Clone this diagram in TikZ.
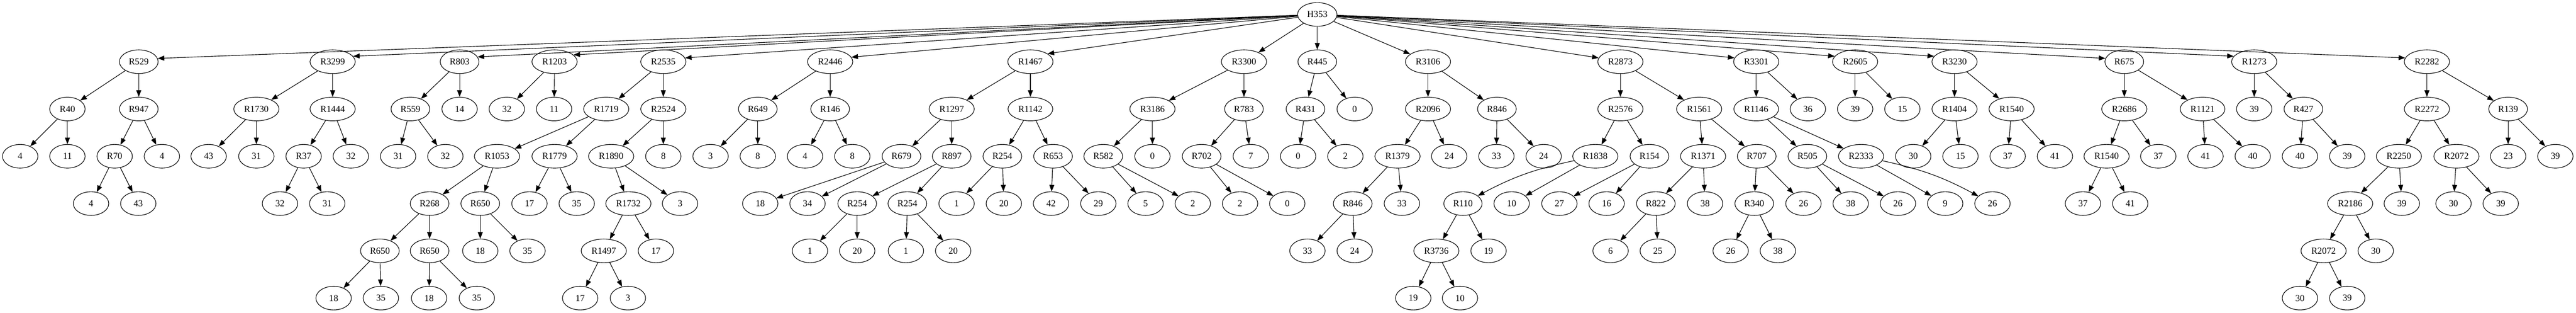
\documentclass[tikz,border=0pt]{standalone}
\usepackage{fontspec}
\setmainfont{Liberation Serif}
\usetikzlibrary{shapes.geometric,arrows.meta}
\tikzset{tree node/.style={ellipse,draw,minimum width=54pt,minimum height=36pt,inner xsep=5.7pt,inner ysep=2pt,font=\fontsize{14}{16}\selectfont},
}
\begin{document}
\begin{tikzpicture}[x=0.75pt,y=-72pt,line width=0.9pt,>={Triangle[length=10pt,width=7.5pt]}]
	\useasboundingbox (0,-0.30556) rectangle (5235,6.30556);
	\node[tree node] (h353) at (2677,0) {H353};
	
	\node[tree node] (r529) at (282,1) {R529};
	\node[tree node] (r40) at (137,2) {R40};
	\node[tree node] (r40a) at (41,3) {4};
	\node[tree node] (r40b) at (137,3) {11};
	\node[tree node] (r947) at (282,2) {R947};
	\node[tree node] (r70) at (233,3) {R70};
	\node[tree node] (r70a) at (185,4) {4};
	\node[tree node] (r70b) at (281,4) {43};
	\node[tree node] (r947b) at (329,3) {4};
	
	\node[tree node] (r3299) at (676,1) {R3299};
	\node[tree node] (r1730) at (521,2) {R1730};
	\node[tree node] (r1730a) at (424,3) {43};
	\node[tree node] (r1730b) at (521,3) {31};
	\node[tree node] (r1444) at (676,2) {R1444};
	\node[tree node] (r37) at (617,3) {R37};
	\node[tree node] (r37a) at (569,4) {32};
	\node[tree node] (r37b) at (665,4) {31};
	\node[tree node] (r1444b) at (713,3) {32};
	
	\node[tree node] (r803) at (934,1) {R803};
	\node[tree node] (r559) at (834,2) {R559};
	\node[tree node] (r559a) at (809,3) {31};
	\node[tree node] (r559b) at (905,3) {32};
	\node[tree node] (r803b) at (934,2) {14};
	
	\node[tree node] (r1203) at (1127,1) {R1203};
	\node[tree node] (r1203a) at (1030,2) {32};
	\node[tree node] (r1203b) at (1126,2) {11};
	
	\node[tree node] (r2535) at (1348,1) {R2535};
	\node[tree node] (r1719) at (1232,2) {R1719};
	\node[tree node] (r1053) at (1010,3) {R1053};
	\node[tree node] (r268) at (873,4) {R268};
	\node[tree node] (r650a) at (772,5) {R650};
	\node[tree node] (r650aa) at (678,6) {18};
	\node[tree node] (r650ab) at (774,6) {35};
	\node[tree node] (r650b) at (873,5) {R650};
	\node[tree node] (r650ba) at (872,6) {18};
	\node[tree node] (r650bb) at (969,6) {35};
	\node[tree node] (r650c) at (976,4) {R650};
	\node[tree node] (r650ca) at (976,5) {18};
	\node[tree node] (r650cb) at (1072,5) {35};
	\node[tree node] (r1779) at (1127,3) {R1779};
	\node[tree node] (r1779a) at (1076,4) {17};
	\node[tree node] (r1779b) at (1172,4) {35};
	\node[tree node] (r2524) at (1348,2) {R2524};
	\node[tree node] (r1890) at (1242,3) {R1890};
	\node[tree node] (r1732) at (1277,4) {R1732};
	\node[tree node] (r1497) at (1227,5) {R1497};
	\node[tree node] (r1497a) at (1179,6) {17};
	\node[tree node] (r1497b) at (1276,6) {3};
	\node[tree node] (r1732b) at (1333,5) {17};
	\node[tree node] (r1890b) at (1382,4) {3};
	\node[tree node] (r2524b) at (1348,3) {8};
	
	\node[tree node] (r2446) at (1687,1) {R2446};
	\node[tree node] (r649) at (1540,2) {R649};
	\node[tree node] (r649a) at (1444,3) {3};
	\node[tree node] (r649b) at (1540,3) {8};
	\node[tree node] (r146) at (1687,2) {R146};
	\node[tree node] (r146a) at (1636,3) {4};
	\node[tree node] (r146b) at (1732,3) {8};
	
	\node[tree node] (r1467) at (2094,1) {R1467};
	\node[tree node] (r1297) at (1934,2) {R1297};
	\node[tree node] (r679) at (1832,3) {R679};
	\node[tree node] (r679a) at (1545,4) {18};
	\node[tree node] (r679b) at (1641,4) {34};
	\node[tree node] (r897) at (1934,3) {R897};
	\node[tree node] (r254a) at (1742,4) {R254};
	\node[tree node] (r254aa) at (1646,5) {1};
	\node[tree node] (r254ab) at (1742,5) {20};
	\node[tree node] (r254b) at (1844,4) {R254};
	\node[tree node] (r254ba) at (1841,5) {1};
	\node[tree node] (r254bb) at (1937,5) {20};
	\node[tree node] (r1142) at (2094,2) {R1142};
	\node[tree node] (r254c) at (2037,3) {R254};
	\node[tree node] (r254ca) at (1944,4) {1};
	\node[tree node] (r254cb) at (2040,4) {20};
	\node[tree node] (r653) at (2140,3) {R653};
	\node[tree node] (r653a) at (2136,4) {42};
	\node[tree node] (r653b) at (2232,4) {29};
	
	\node[tree node] (r3300) at (2528,1) {R3300};
	\node[tree node] (r3186) at (2342,2) {R3186};
	\node[tree node] (r582) at (2242,3) {R582};
	\node[tree node] (r582a) at (2328,4) {5};
	\node[tree node] (r582b) at (2424,4) {2};
	\node[tree node] (r3186b) at (2342,3) {0};
	\node[tree node] (r783) at (2528,2) {R783};
	\node[tree node] (r702) at (2442,3) {R702};
	\node[tree node] (r702a) at (2520,4) {2};
	\node[tree node] (r702b) at (2616,4) {0};
	\node[tree node] (r783b) at (2542,3) {7};
	
	\node[tree node] (r445) at (2677,1) {R445};
	\node[tree node] (r431) at (2653,2) {R431};
	\node[tree node] (r431a) at (2638,3) {0};
	\node[tree node] (r431b) at (2734,3) {2};
	\node[tree node] (r445b) at (2753,2) {0};
	
	\node[tree node] (r3106) at (2902,1) {R3106};
	\node[tree node] (r2096) at (2902,2) {R2096};
	\node[tree node] (r1379) at (2840,3) {R1379};
	\node[tree node] (r846a) at (2749,4) {R846};
	\node[tree node] (r846aa) at (2657,5) {33};
	\node[tree node] (r846ab) at (2753,5) {24};
	\node[tree node] (r1379b) at (2849,4) {33};
	\node[tree node] (r2096b) at (2945,3) {24};
	\node[tree node] (r846b) at (3042,2) {R846};
	\node[tree node] (r846ba) at (3041,3) {33};
	\node[tree node] (r846bb) at (3137,3) {24};
	
	\node[tree node] (r2873) at (3293,1) {R2873};
	\node[tree node] (r2576) at (3293,2) {R2576};
	\node[tree node] (r1838) at (3242,3) {R1838};
	\node[tree node] (r110) at (2973,4) {R110};
	\node[tree node] (r3736) at (2919,5) {R3736};
	\node[tree node] (r3736a) at (2872,6) {19};
	\node[tree node] (r3736b) at (2967,6) {10};
	\node[tree node] (r110b) at (3025,5) {19};
	\node[tree node] (r1838b) at (3072,4) {10};
	\node[tree node] (r154) at (3352,3) {R154};
	\node[tree node] (r154a) at (3169,4) {27};
	\node[tree node] (r154b) at (3265,4) {16};
	\node[tree node] (r1561) at (3453,2) {R1561};
	\node[tree node] (r1371) at (3461,3) {R1371};
	\node[tree node] (r822) at (3365,4) {R822};
	\node[tree node] (r822a) at (3273,5) {6};
	\node[tree node] (r822b) at (3369,5) {25};
	\node[tree node] (r1371b) at (3465,4) {38};
	\node[tree node] (r707) at (3570,3) {R707};
	\node[tree node] (r340) at (3565,4) {R340};
	\node[tree node] (r340a) at (3517,5) {26};
	\node[tree node] (r340b) at (3613,5) {38};
	\node[tree node] (r707b) at (3665,4) {26};
	
	\node[tree node] (r3301) at (3569,1) {R3301};
	\node[tree node] (r1146) at (3569,2) {R1146};
	\node[tree node] (r505) at (3673,3) {R505};
	\node[tree node] (r505a) at (3761,4) {38};
	\node[tree node] (r505b) at (3857,4) {26};
	\node[tree node] (r2333) at (3782,3) {R2333};
	\node[tree node] (r2333a) at (3953,4) {9};
	\node[tree node] (r2333b) at (4049,4) {26};
	\node[tree node] (r3301b) at (3674,2) {36};
	
	\node[tree node] (r2605) at (3770,1) {R2605};
	\node[tree node] (r2605a) at (3770,2) {39};
	\node[tree node] (r2605b) at (3866,2) {15};
	
	\node[tree node] (r3230) at (3972,1) {R3230};
	\node[tree node] (r1404) at (3972,2) {R1404};
	\node[tree node] (r1404a) at (3888,3) {30};
	\node[tree node] (r1404b) at (3984,3) {15};
	\node[tree node] (r1540a) at (4088,2) {R1540};
	\node[tree node] (r1540aa) at (4080,3) {37};
	\node[tree node] (r1540ab) at (4176,3) {41};
	
	\node[tree node] (r675) at (4317,1) {R675};
	\node[tree node] (r2686) at (4317,2) {R2686};
	\node[tree node] (r1540b) at (4281,3) {R1540};
	\node[tree node] (r1540ba) at (4233,4) {37};
	\node[tree node] (r1540bb) at (4329,4) {41};
	\node[tree node] (r2686b) at (4386,3) {37};
	\node[tree node] (r1121) at (4476,2) {R1121};
	\node[tree node] (r1121a) at (4482,3) {41};
	\node[tree node] (r1121b) at (4578,3) {40};
	
	\node[tree node] (r1273) at (4581,1) {R1273};
	\node[tree node] (r1273a) at (4581,2) {39};
	\node[tree node] (r427) at (4681,2) {R427};
	\node[tree node] (r427a) at (4674,3) {40};
	\node[tree node] (r427b) at (4770,3) {39};
	
	\node[tree node] (r2282) at (4932,1) {R2282};
	\node[tree node] (r2272) at (4932,2) {R2272};
	\node[tree node] (r2250) at (4875,3) {R2250};
	\node[tree node] (r2186) at (4776,4) {R2186};
	\node[tree node] (r2072a) at (4722,5) {R2072};
	\node[tree node] (r2072aa) at (4674,6) {30};
	\node[tree node] (r2072ab) at (4770,6) {39};
	\node[tree node] (r2186b) at (4828,5) {30};
	\node[tree node] (r2250b) at (4881,4) {39};
	\node[tree node] (r2072b) at (4992,3) {R2072};
	\node[tree node] (r2072ba) at (4986,4) {30};
	\node[tree node] (r2072bb) at (5082,4) {39};
	\node[tree node] (r139) at (5097,2) {R139};
	\node[tree node] (r139a) at (5097,3) {23};
	\node[tree node] (r139b) at (5193,3) {39};
	
	
	\path[draw,->]
	(h353) edge (r529.10)
	(h353) edge (r3299.15)
	(h353) edge (r803.15)
	(h353) edge (r1203.20)
	(h353) edge (r2535.10)
	(h353) edge (r2446.12)
	(h353) edge (r1467.25)
	(h353) edge (r3300)
	(h353) edge (r445)
	(h353) edge (r3106)
	(h353) edge (r2873.170)
	(h353) edge (r3301.170)
	(h353) edge (r2605.165)
	(h353) edge (r3230.165)
	(h353) edge (r675.170)
	(h353) edge (r1273.165)
	(h353) edge (r2282.170)
	(r529) edge (r40)
	(r529) edge (r947)
	(r40) edge (r40a)
	(r40) edge (r40b)
	(r947) edge (r70)
	(r947) edge (r947b)
	(r70) edge (r70a)
	(r70) edge (r70b)
	(r3299) edge (r1730)
	(r3299) edge (r1444)
	(r1730) edge (r1730a)
	(r1730) edge (r1730b)
	(r1444) edge (r37)
	(r1444) edge (r1444b)
	(r37) edge (r37a)
	(r37) edge (r37b)
	(r803) edge (r559)
	(r803) edge (r803b)
	(r559) edge (r559a)
	(r559) edge (r559b)
	(r1203) edge (r1203a)
	(r1203) edge (r1203b)
	(r2535) edge (r1719)
	(r2535) edge (r2524)
	(r1719) edge (r1053)
	(r1719) edge (r1779)
	(r1053) edge (r268)
	(r1053) edge (r650c)
	(r268) edge (r650a)
	(r268) edge (r650b)
	(r650a) edge (r650aa)
	(r650a) edge (r650ab)
	(r650b) edge (r650ba)
	(r650b) edge (r650bb)
	(r650c) edge (r650ca)
	(r650c) edge (r650cb)
	(r1779) edge (r1779a)
	(r1779) edge (r1779b)
	(r2524) edge (r1890)
	(r2524) edge (r2524b)
	(r1890) edge (r1732)
	(r1890) edge (r1890b)
	(r1732) edge (r1497)
	(r1732) edge (r1732b)
	(r1497) edge (r1497a)
	(r1497) edge (r1497b)
	(r2446) edge (r649)
	(r2446) edge (r146)
	(r649) edge (r649a)
	(r649) edge (r649b)
	(r146) edge (r146a)
	(r146) edge (r146b)
	(r1467) edge (r1297)
	(r1467) edge (r1142)
	(r1297) edge (r679)
	(r1297) edge (r897)
	(r679) edge (r679a)
	(r679) edge (r679b)
	(r897) edge (r254a)
	(r897) edge (r254b)
	(r254a) edge (r254aa)
	(r254a) edge (r254ab)
	(r254b) edge (r254ba)
	(r254b) edge (r254bb)
	(r1142) edge (r254c)
	(r1142) edge (r653)
	(r254c) edge (r254ca)
	(r254c) edge (r254cb)
	(r653) edge (r653a)
	(r653) edge (r653b)
	(r3300) edge (r3186)
	(r3300) edge (r783)
	(r3186) edge (r582)
	(r3186) edge (r3186b)
	(r582) edge (r582a)
	(r582) edge (r582b)
	(r783) edge (r702)
	(r783) edge (r783b)
	(r702) edge (r702a)
	(r702) edge (r702b)
	(r445) edge (r431)
	(r445) edge (r445b)
	(r431) edge (r431a)
	(r431) edge (r431b)
	(r3106) edge (r2096)
	(r3106) edge (r846b)
	(r2096) edge (r1379)
	(r2096) edge (r2096b)
	(r1379) edge (r846a)
	(r1379) edge (r1379b)
	(r846a) edge (r846aa)
	(r846a) edge (r846ab)
	(r846b) edge (r846ba)
	(r846b) edge (r846bb)
	(r2873) edge (r2576)
	(r2873) edge (r1561)
	(r2576) edge (r1838)
	(r2576) edge (r154)
	(r1838) edge[bend right=8] (r110)
	(r1838) edge (r1838b)
	(r110) edge (r3736)
	(r110) edge (r110b)
	(r3736) edge (r3736a)
	(r3736) edge (r3736b)
	(r154) edge (r154a)
	(r154) edge (r154b)
	(r1561) edge (r1371)
	(r1561) edge (r707)
	(r1371) edge (r822)
	(r1371) edge (r1371b)
	(r822) edge (r822a)
	(r822) edge (r822b)
	(r707) edge (r340)
	(r707) edge (r707b)
	(r340) edge (r340a)
	(r340) edge (r340b)
	(r3301) edge (r1146)
	(r3301) edge (r3301b)
	(r1146) edge (r505)
	(r1146) edge (r2333)
	(r505) edge (r505a)
	(r505) edge (r505b)
	(r2333) edge (r2333a)
	(r2333) edge[bend left=8] (r2333b)
	(r2605) edge (r2605a)
	(r2605) edge (r2605b)
	(r3230) edge (r1404)
	(r3230) edge (r1540a)
	(r1404) edge (r1404a)
	(r1404) edge (r1404b)
	(r1540a) edge (r1540aa)
	(r1540a) edge (r1540ab)
	(r675) edge (r2686)
	(r675) edge (r1121)
	(r2686) edge (r1540b)
	(r2686) edge (r2686b)
	(r1540b) edge (r1540ba)
	(r1540b) edge (r1540bb)
	(r1121) edge (r1121a)
	(r1121) edge (r1121b)
	(r1273) edge (r1273a)
	(r1273) edge (r427)
	(r427) edge (r427a)
	(r427) edge (r427b)
	(r2282) edge (r2272)
	(r2282) edge (r139)
	(r2272) edge (r2250)
	(r2272) edge (r2072b)
	(r2250) edge (r2186)
	(r2250) edge (r2250b)
	(r2186) edge (r2072a)
	(r2186) edge (r2186b)
	(r2072a) edge (r2072aa)
	(r2072a) edge (r2072ab)
	(r2072b) edge (r2072ba)
	(r2072b) edge (r2072bb)
	(r139) edge (r139a)
	(r139) edge (r139b);
	\end{tikzpicture}
\end{document}
